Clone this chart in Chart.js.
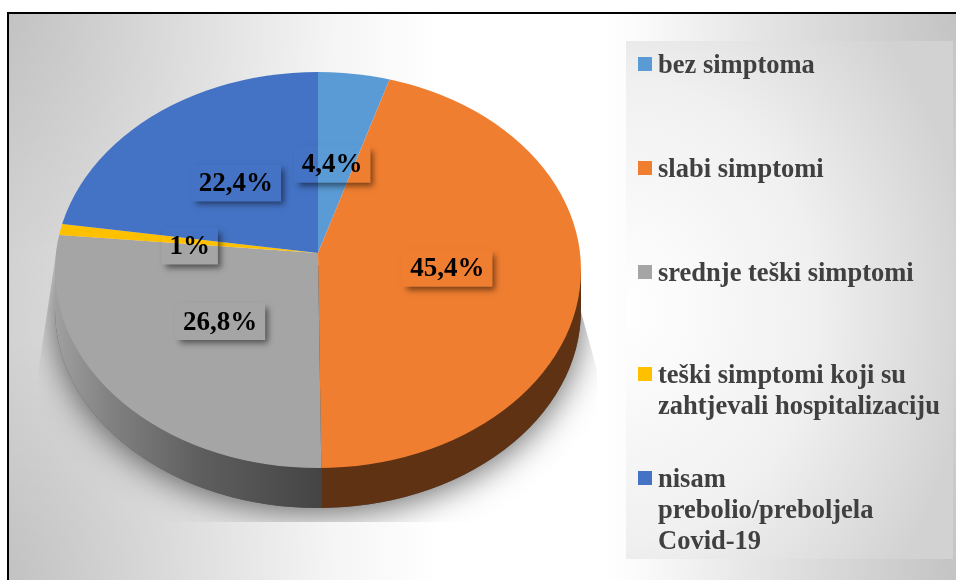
<!DOCTYPE html>
<html>
<head>
<meta charset="utf-8">
<script src="https://cdn.jsdelivr.net/npm/chart.js@4"></script>
<style>
  html, body { margin: 0; padding: 0; background: #fff; overflow: hidden; }
  #frame {
    position: absolute; left: 7px; top: 12px; width: 960px; height: 580px;
    border-left: 2px solid #000; border-top: 2px solid #000;
    background:
      radial-gradient(circle 330px at 0 0, rgba(0,0,0,.1), rgba(0,0,0,0)),
      radial-gradient(circle 330px at 949px 0, rgba(0,0,0,.1), rgba(0,0,0,0)),
      radial-gradient(circle 330px at 0 566px, rgba(0,0,0,.1), rgba(0,0,0,0)),
      radial-gradient(circle 330px at 949px 566px, rgba(0,0,0,.1), rgba(0,0,0,0)),
      linear-gradient(to right, #d8d8d8 0%, #ffffff 45%, #ffffff 62%, #d8d8d8 100%);
  }
  #panel {
    position: absolute; left: 626px; top: 41px; width: 327px; height: 518px;
    background: radial-gradient(ellipse 345px 420px at 0 52%, #fff 0%, #f0f0f0 55%, #d2d2d2 100%);
  }
  #chart { position: absolute; left: 0; top: 0; }
  #legend { position: absolute; left: 0; top: 0; font: bold 26.5px "Liberation Serif", serif; color: #404040; }
  .legend-item { position: absolute; left: 658px; width: 295px; line-height: 31px; white-space: pre; }
  .legend-color { position: absolute; left: -20px; top: 8px; width: 14px; height: 14px; }
</style>
</head>
<body>
<div id="frame"></div>
<div id="panel"></div>
<canvas id="chart" width="956" height="580"></canvas>
<div id="legend"></div>
<script>
const categories = ["bez simptoma", "slabi simptomi", "srednje teški simptomi", "teški simptomi koji su\nzahtjevali hospitalizaciju", "nisam\nprebolio/preboljela\nCovid-19"];
const values = [4.4, 45.4, 26.8, 1, 22.4];
const colors = ["#5b9bd5", "#f07e30", "#a5a5a5", "#ffc000", "#4472c4"];

// legend rows and small nudges for the value labels
const legendTops = [49, 153, 257, 359, 463];
const labelNudges = [[-4, 1], [-1, 1], [-1, -4], [2, 5], [3, -1]];

// the pie is tilted: the centre of the slices sits above the centre of the ellipse
const tilt = { ry: 198, apexUp: 17, upper: 181 / 263, lower: 215 / 263, depth: 40, over: 1.2 };

function rayPoint(arc, a) {
  const k = Math.sin(a) < 0 ? tilt.upper : tilt.lower;
  const dx = Math.cos(a), dy = k * Math.sin(a);
  const rx = arc.outerRadius, ry = tilt.ry, py = -tilt.apexUp;
  const A = (dx * dx) / (rx * rx) + (dy * dy) / (ry * ry);
  const B = (2 * py * dy) / (ry * ry);
  const C = (py * py) / (ry * ry) - 1;
  const t = (-B + Math.sqrt(B * B - 4 * A * C)) / (2 * A);
  return { x: arc.x + t * dx, y: arc.y + py + t * dy };
}

function sideFill(ctx, index) {
  if (index === 1) return "#5f3213";
  const g = ctx.createLinearGradient(55, 0, 321, 0);
  g.addColorStop(0, "#a0a0a0");
  g.addColorStop(0.2, "#828282");
  g.addColorStop(0.55, "#5e5e5e");
  g.addColorStop(1, "#444444");
  return g;
}

const pie3d = {
  id: "pie3d",
  beforeDatasetDraw(chart) {
    const ctx = chart.ctx;
    const meta = chart.getDatasetMeta(0);
    const first = meta.data[0];
    const cx = first.x, cy = first.y, R = first.outerRadius, ry = tilt.ry, d = tilt.depth;

    // soft wedge and drop shadow behind the pie
    const wedge = () => {
      ctx.beginPath();
      ctx.moveTo(cx - R + 3, cy - 30);
      ctx.lineTo(cx - R - 18, cy + 110);
      ctx.lineTo(cx - R - 18, cy + d + ry + 14);
      ctx.lineTo(cx + R + 16, cy + d + ry + 14);
      ctx.lineTo(cx + R + 16, cy + 100);
      ctx.lineTo(cx + R - 6, cy + 20);
      ctx.closePath();
    };
    ctx.save();
    wedge();
    ctx.clip();
    const glow = ctx.createLinearGradient(0, cy - 30, 0, cy + 150);
    glow.addColorStop(0, "rgba(255,255,255,.28)");
    glow.addColorStop(1, "rgba(255,255,255,0)");
    ctx.fillStyle = glow;
    ctx.fillRect(0, 0, chart.width, chart.height);
    ctx.shadowColor = "rgba(0,0,0,.6)";
    ctx.shadowBlur = 34;
    ctx.shadowOffsetY = 4;
    ctx.fillStyle = "#555";
    ctx.beginPath();
    ctx.ellipse(cx, cy + d, R, ry, 0, 0, Math.PI * 2);
    ctx.fill();
    ctx.restore();

    // side wall, one piece per slice that reaches the front
    meta.data.forEach((arc, i) => {
      const a0 = arc.startAngle, a1 = arc.endAngle;
      if (a1 <= 0 || a0 >= Math.PI) return;
      const right = a0 <= 0 ? cx + R : rayPoint(arc, a0).x;
      const left = a1 >= Math.PI ? cx - R : rayPoint(arc, a1).x;
      ctx.save();
      ctx.beginPath();
      ctx.rect(left, cy, right - left, d + ry + 1);
      ctx.clip();
      ctx.fillStyle = sideFill(ctx, i);
      ctx.beginPath();
      ctx.ellipse(cx, cy + d, R, ry, 0, 0, Math.PI * 2);
      ctx.rect(cx - R, cy, 2 * R, d);
      ctx.fill("nonzero");
      ctx.restore();
    });

    // top face, stretched differently above and below the centre of the slices
    const apexY = cy - tilt.apexUp;
    [[0, apexY, tilt.upper], [apexY, chart.height - apexY, tilt.lower]].forEach(([top, h, k]) => {
      ctx.save();
      ctx.beginPath();
      ctx.ellipse(cx, cy, R, ry, 0, 0, Math.PI * 2);
      ctx.clip();
      ctx.beginPath();
      ctx.rect(0, top, chart.width, h);
      ctx.clip();
      ctx.translate(cx, apexY);
      ctx.scale(tilt.over, tilt.over * k);
      ctx.translate(-cx, -cy);
      meta.controller.draw();
      ctx.restore();
    });
    return false;
  },
  afterDatasetsDraw(chart) {
    const ctx = chart.ctx;
    const meta = chart.getDatasetMeta(0);
    ctx.font = 'bold 27px "Liberation Serif", serif';
    ctx.textAlign = "center";
    ctx.textBaseline = "middle";
    meta.data.forEach((arc, i) => {
      const a = (arc.startAngle + arc.endAngle) / 2;
      const k = Math.sin(a) < 0 ? tilt.upper : tilt.lower;
      const x = arc.x + (arc.outerRadius / 2) * Math.cos(a) + labelNudges[i][0];
      const y = arc.y - tilt.apexUp + (arc.outerRadius / 2) * k * Math.sin(a) + labelNudges[i][1];
      const text = String(values[i]).replace(".", ",") + "%";
      const w = ctx.measureText(text).width + 16, h = 37;
      const bx = x - w / 2, by = y - h / 2;

      // label box is see-through, only its shadow shows outside the box
      ctx.save();
      ctx.beginPath();
      ctx.rect(0, 0, chart.width, chart.height);
      ctx.rect(bx, by, w, h);
      ctx.clip("evenodd");
      ctx.shadowColor = "rgba(0,0,0,.5)";
      ctx.shadowBlur = 6;
      ctx.shadowOffsetX = 4;
      ctx.shadowOffsetY = 4;
      ctx.fillStyle = "#000";
      ctx.fillRect(bx + 1, by + 1, w - 2, h - 2);
      ctx.restore();

      ctx.fillStyle = "#000";
      ctx.fillText(text, x, y + 1);
    });
  }
};

const chart = new Chart(document.getElementById("chart").getContext("2d"), {
  type: "pie",
  data: {
    labels: categories,
    datasets: [{ data: values, backgroundColor: colors, borderWidth: 0 }]
  },
  options: {
    responsive: false,
    animation: false,
    layout: { padding: { left: 55, right: 375, top: 7, bottom: 47 } },
    plugins: { legend: { display: false }, tooltip: { enabled: false } }
  },
  plugins: [pie3d]
});

// legend
document.getElementById("legend").innerHTML = categories
  .map((label, i) => `<div class="legend-item" style="top:${legendTops[i]}px"><span class="legend-color" style="background-color:${colors[i]}"></span>${label}</div>`)
  .join("");
</script>
</body>
</html>
